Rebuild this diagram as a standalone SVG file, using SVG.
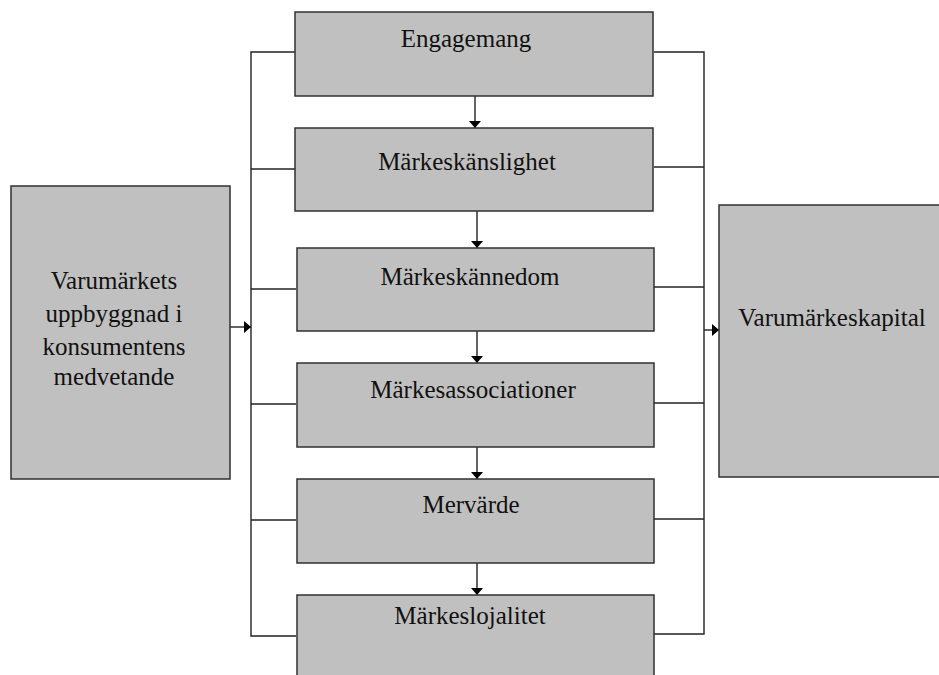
<svg xmlns="http://www.w3.org/2000/svg" width="939" height="675" viewBox="0 0 939 675">
<style>
.box{fill:#c0c0c0;stroke:#303030;stroke-width:1.5}
.t{font-family:"Liberation Serif","Times New Roman",serif;font-size:25px;fill:#111;text-anchor:middle}
.ln{fill:none;stroke:#222;stroke-width:1.4}
</style>
<defs>
<marker id="av" viewBox="0 0 12 8" refX="12" refY="4" markerWidth="7" markerHeight="12" markerUnits="userSpaceOnUse" orient="auto" preserveAspectRatio="none">
<path d="M0,0 L12,4 L0,8 Z" fill="#000"/>
</marker>
</defs>
<g id="connectors">
<polyline class="ln" points="296,52 251,52 251,636 296,636"/>
<line class="ln" x1="251" y1="169" x2="296" y2="169"/>
<line class="ln" x1="251" y1="289" x2="296" y2="289"/>
<line class="ln" x1="251" y1="404" x2="296" y2="404"/>
<line class="ln" x1="251" y1="520" x2="296" y2="520"/>
<polyline class="ln" points="654,52 704,52 704,634 654,634"/>
<line class="ln" x1="654" y1="167" x2="704" y2="167"/>
<line class="ln" x1="654" y1="287" x2="704" y2="287"/>
<line class="ln" x1="654" y1="403" x2="704" y2="403"/>
<line class="ln" x1="654" y1="519" x2="704" y2="519"/>
<line class="ln" x1="230" y1="327" x2="251" y2="327" marker-end="url(#av)"/>
<line class="ln" x1="704" y1="330" x2="719" y2="330" marker-end="url(#av)"/>
<line class="ln" x1="475" y1="96" x2="475" y2="128" marker-end="url(#av)"/>
<line class="ln" x1="477" y1="211" x2="477" y2="248" marker-end="url(#av)"/>
<line class="ln" x1="477" y1="331" x2="477" y2="363" marker-end="url(#av)"/>
<line class="ln" x1="477" y1="447" x2="477" y2="479" marker-end="url(#av)"/>
<line class="ln" x1="477" y1="563" x2="477" y2="595" marker-end="url(#av)"/>
</g>
<g id="node-left">
<rect class="box" x="11" y="186" width="219" height="293"/>
<text class="t" x="114" y="289">Varumärkets</text>
<text class="t" x="114" y="322">uppbyggnad i</text>
<text class="t" x="114" y="355">konsumentens</text>
<text class="t" x="114" y="385">medvetande</text>
</g>
<g id="node-engagemang">
<rect class="box" x="295" y="12" width="358" height="84"/>
<text class="t" x="466" y="47">Engagemang</text>
</g>
<g id="node-markeskanslighet">
<rect class="box" x="295" y="128" width="358" height="83"/>
<text class="t" x="467" y="170">Märkeskänslighet</text>
</g>
<g id="node-markeskannedom">
<rect class="box" x="297" y="248" width="357" height="83"/>
<text class="t" x="470" y="285">Märkeskännedom</text>
</g>
<g id="node-markesassociationer">
<rect class="box" x="297" y="363" width="357" height="84"/>
<text class="t" x="473" y="398">Märkesassociationer</text>
</g>
<g id="node-mervarde">
<rect class="box" x="297" y="479" width="357" height="84"/>
<text class="t" x="471" y="513">Mervärde</text>
</g>
<g id="node-markeslojalitet">
<rect class="box" x="297" y="595" width="357" height="90"/>
<text class="t" x="470" y="624">Märkeslojalitet</text>
</g>
<g id="node-right">
<rect class="box" x="719" y="205" width="225" height="272"/>
<text class="t" x="832" y="326">Varumärkeskapital</text>
</g>
</svg>
